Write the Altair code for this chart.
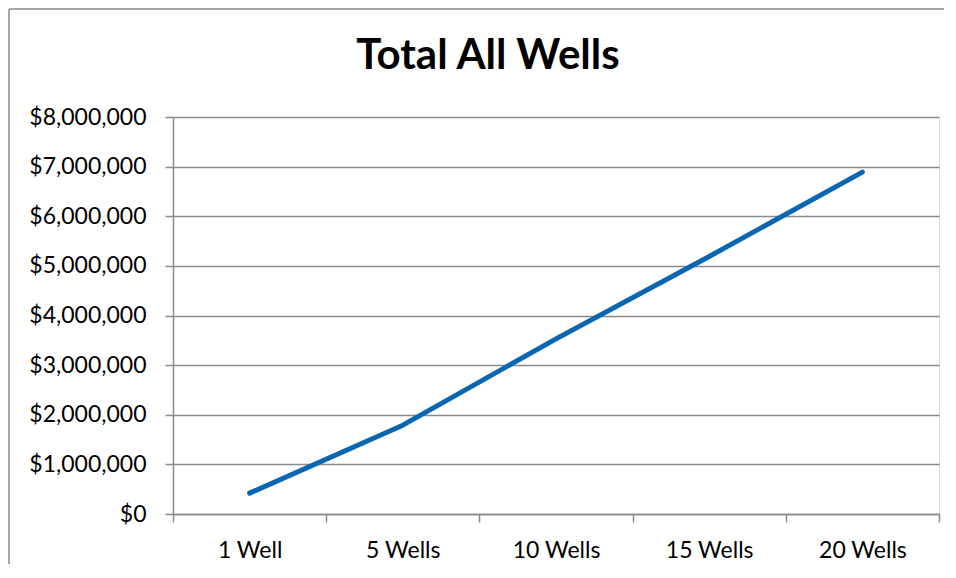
import altair as alt
import pandas as pd

title_text = "Total All Wells"
wells = ["1 Well", "5 Wells", "10 Wells", "15 Wells", "20 Wells"]
totals = [420000, 1790000, 3530000, 5190000, 6890000]
y_ticks = [0, 1000000, 2000000, 3000000, 4000000, 5000000, 6000000, 7000000, 8000000]

df = pd.DataFrame({"wells": wells, "total": totals})

FONT = "Lato"
GRAY = "#8a8a8a"

line = alt.Chart(df).mark_line(
    color="#0B66B2", strokeWidth=5, strokeCap="round", strokeJoin="round"
).encode(
    x=alt.X("wells:N", sort=wells, title=None,
            scale=alt.Scale(type="band", paddingInner=0, paddingOuter=0),
            axis=alt.Axis(tickBand="extent", labelAngle=0, grid=False,
                          domainColor=GRAY, domainWidth=1.5, tickColor=GRAY,
                          tickWidth=1.5, tickSize=8, labelPadding=17,
                          labelFont=FONT, labelFontSize=23, labelColor="#000000")),
    y=alt.Y("total:Q", title=None,
            scale=alt.Scale(domain=[0, 8000000], nice=False),
            axis=alt.Axis(values=y_ticks, format="$,.0f", grid=True,
                          gridColor=GRAY, gridWidth=1.5,
                          domainColor=GRAY, domainWidth=1.5, tickColor=GRAY,
                          tickWidth=1.5, tickSize=8, labelPadding=19,
                          labelFont=FONT, labelFontSize=23, labelColor="#000000")),
)

frame_df = pd.DataFrame({"k": [0]})
left_border = alt.Chart(frame_df).mark_rule(color=GRAY, strokeWidth=1.5).encode(
    x=alt.value(-164), y=alt.value(-108), y2=alt.value(460)
)
top_border = alt.Chart(frame_df).mark_rule(color=GRAY, strokeWidth=1.5).encode(
    x=alt.value(-164), x2=alt.value(800), y=alt.value(-108)
)
title = alt.Chart(frame_df).mark_text(
    text=title_text, font=FONT, fontSize=42, fontWeight="bold",
    color="#000000", align="center", baseline="alphabetic"
).encode(x=alt.value(315), y=alt.value(-48))

chart = alt.layer(left_border, top_border, title, line).properties(
    width=766,
    height=397,
    autosize=alt.AutoSizeParams(type="none"),
    padding={"left": 165, "top": 109, "right": 5, "bottom": 50},
).configure_view(stroke=None).configure(background="white")

chart.save("out.html", embed_options={"renderer": "svg", "actions": False})
